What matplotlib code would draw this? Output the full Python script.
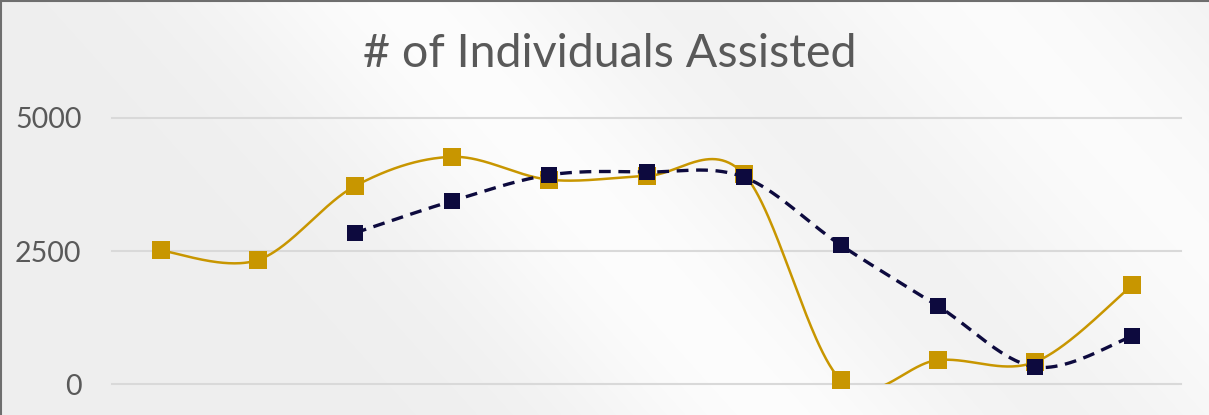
import matplotlib
matplotlib.use("Agg")
import matplotlib.pyplot as plt
import numpy as np

# eleven categories, labels are cut off in the crop
categories = list(range(11))
gold_values = [2510, 2330, 3720, 4270, 3840, 3910, 3950, 75, 450, 415, 1860]
navy_values = [None, None, 2840, 3440, 3930, 3985, 3890, 2610, 1465, 320, 900]
y_ticks = [0, 2500, 5000]
title = "# of Individuals Assisted"

gold = "#C89600"
navy = "#0D0A3E"
text_col = "#595959"
grid_col = "#D9D9D9"

plt.rcParams['font.family'] = ['Lato', 'DejaVu Sans']
plt.rcParams['lines.scale_dashes'] = False


def smooth(xs, ys, n=60):
    # excel-like smoothed line: cubic bezier, control points at 1/6 of neighbour chord
    xs = np.asarray(xs, float)
    ys = np.asarray(ys, float)
    m = len(xs)
    out_x, out_y = [], []
    t = np.linspace(0, 1, n)
    for i in range(m - 1):
        a = max(i - 1, 0)
        d = min(i + 2, m - 1)
        c1x = xs[i] + (xs[i + 1] - xs[a]) / 6
        c1y = ys[i] + (ys[i + 1] - ys[a]) / 6
        c2x = xs[i + 1] - (xs[d] - xs[i]) / 6
        c2y = ys[i + 1] - (ys[d] - ys[i]) / 6
        bx = (1 - t)**3 * xs[i] + 3 * (1 - t)**2 * t * c1x + 3 * (1 - t) * t**2 * c2x + t**3 * xs[i + 1]
        by = (1 - t)**3 * ys[i] + 3 * (1 - t)**2 * t * c1y + 3 * (1 - t) * t**2 * c2y + t**3 * ys[i + 1]
        out_x.extend(bx)
        out_y.extend(by)
    return out_x, out_y


W, H = 1209, 415
fig = plt.figure(figsize=(W / 100, H / 100), dpi=100)

# soft grey background with diagonal light streaks
bg = fig.add_axes([0, 0, 1, 1], zorder=-5)
gx, gy = np.meshgrid(np.arange(W), np.arange(H))
s = gx - gy * 0.9
shade = 0.935 + 0.055 * np.exp(-((s - 400) / 200)**2) + 0.05 * np.exp(-((s - 980) / 230)**2)
shade = np.clip(shade, 0, 1)
bg.imshow(np.dstack([shade] * 3), aspect='auto', extent=[0, 1, 0, 1], origin='upper')
bg.axis('off')
bg.set_xlim(0, 1)
bg.set_ylim(0, 1)
bg.plot([0, 1], [0.997, 0.997], color="#6E6E6E", lw=1.5, transform=bg.transAxes, clip_on=False)
bg.plot([0.001, 0.001], [0, 1], color="#6E6E6E", lw=1.5, transform=bg.transAxes, clip_on=False)

ax = fig.add_axes([112 / W, (H - 384) / H, (1181 - 112) / W, (384 - 118) / H])
ax.set_facecolor('none')
ax.set_xlim(-0.5, len(categories) - 0.5)
ax.set_ylim(0, 5000)
ax.set_yticks(y_ticks)
ax.set_yticklabels([str(v) for v in y_ticks], fontsize=20.5, color=text_col)
ax.tick_params(axis='y', length=0, pad=22)
ax.set_xticks([])
for sp in ax.spines.values():
    sp.set_visible(False)
for v in y_ticks:
    ax.axhline(v, color=grid_col, lw=1.5, zorder=1, clip_on=False)

# gold series
sx, sy = smooth(categories, gold_values)
ax.plot(sx, sy, color=gold, lw=1.8, zorder=3, solid_capstyle='round')
ax.plot(categories, gold_values, ls='none', marker='s', ms=12.5, mfc=gold, mec=gold,
        mew=0, zorder=4, clip_on=False)

# navy series (starts at the third category)
nx = [c for c, v in zip(categories, navy_values) if v is not None]
ny = [v for v in navy_values if v is not None]
sx, sy = smooth(nx, ny)
ax.plot(sx, sy, color=navy, lw=2.4, dashes=(8.5, 5.5), zorder=5)
ax.plot(nx, ny, ls='none', marker='s', ms=11.5, mfc=navy, mec=navy, mew=0, zorder=6, clip_on=False)

# title sized to the reference width
t = fig.text(610 / W, 1 - 67 / H, title, ha='center', va='baseline', fontsize=30, color=text_col)
fig.canvas.draw()
w = t.get_window_extent().width
t.set_fontsize(30 * 494 / w)

fig.savefig("out.png", dpi=100)
